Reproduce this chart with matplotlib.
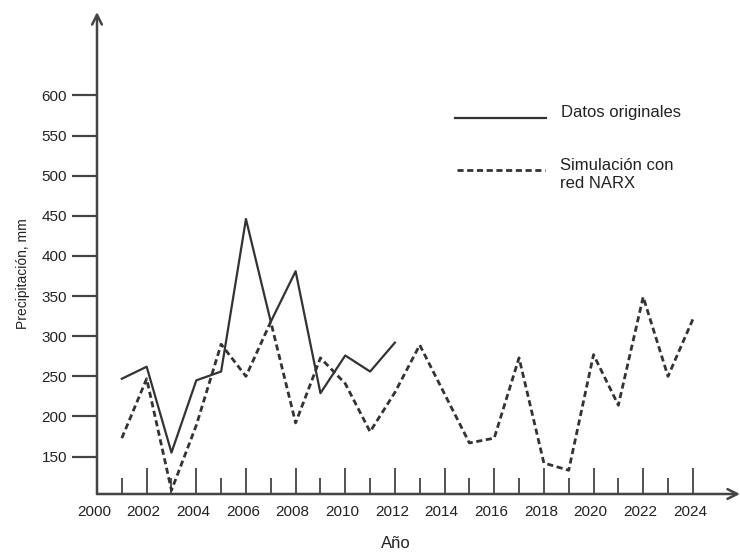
import matplotlib
matplotlib.use("Agg")
import matplotlib.pyplot as plt
from matplotlib.ticker import FixedLocator
from matplotlib.lines import Line2D
from matplotlib.transforms import ScaledTranslation

plt.rcParams['font.family'] = ['Liberation Sans', 'DejaVu Sans']

# ---- data ----
years_orig = [2001, 2002, 2003, 2004, 2005, 2006, 2007, 2008, 2009, 2010, 2011, 2012]
orig = [247, 262, 155, 245, 256, 446, 318, 381, 229, 276, 256, 292]

years_sim = list(range(2001, 2025))
sim = [173, 247, 108, 189, 290, 250, 318, 192, 273, 241, 181, 230,
       289, 228, 167, 173, 273, 142, 133, 277, 214, 349, 250, 321]

y_ticks = [150, 200, 250, 300, 350, 400, 450, 500, 550, 600]
x_major = list(range(2000, 2025, 2))
x_minor = list(range(2001, 2024, 2))
label_orig = "Datos originales"
label_sim = "Simulación con\nred NARX"

W, H = 740, 554
fig = plt.figure(figsize=(W / 100, H / 100), dpi=100)
x0, x1 = 97, 740
y0, y1 = 494, 12
ax = fig.add_axes([x0 / W, (H - y0) / H, (x1 - x0) / W, (y0 - y1) / H])
ax.set_xlim(2000, 2025.9)
ax.set_ylim(103.4, 704)

axis_col = '#444444'
line_col = '#333333'
text_col = '#222222'
for s in ax.spines.values():
    s.set_visible(False)
ax.patch.set_alpha(0)

# axes with arrows
arrow = dict(arrowstyle='->,head_length=0.7,head_width=0.35',
             color=axis_col, lw=1.8, shrinkA=0, shrinkB=0)
ax.annotate('', xy=(2000, 704), xytext=(2000, 103.4), xycoords='data',
            arrowprops=arrow, annotation_clip=False)
ax.annotate('', xy=(2025.9, 103.4), xytext=(2000, 103.4), xycoords='data',
            arrowprops=arrow, annotation_clip=False)

dash_style = (2.2, 1.3)
ax.plot(years_orig, orig, color=line_col, lw=1.6, label=label_orig, clip_on=False)
ax.plot(years_sim, sim, color=line_col, lw=2.0, dashes=dash_style,
        label=label_sim, clip_on=False)

# ticks
ax.yaxis.set_major_locator(FixedLocator(y_ticks))
ax.tick_params(axis='y', direction='out', length=18, width=1.6, color=axis_col,
               pad=3.5, labelsize=11, labelcolor=text_col)
ax.xaxis.set_major_locator(FixedLocator(x_major))
ax.xaxis.set_minor_locator(FixedLocator(x_minor))
ax.tick_params(axis='x', which='major', direction='in', length=18.7, width=1.3,
               color=axis_col, pad=8, labelsize=11, labelcolor=text_col)
ax.tick_params(axis='x', which='minor', direction='in', length=11.5, width=1.3,
               color=axis_col)
shift = ScaledTranslation(-3 / 100, 0, fig.dpi_scale_trans)
for lbl in ax.get_xticklabels():
    lbl.set_transform(lbl.get_transform() + shift)

ax.set_ylabel('Precipitación, mm', fontsize=10, color=text_col)
ax.yaxis.set_label_coords((30 - x0) / (x1 - x0), (y0 - 274) / (y0 - y1))
ax.set_xlabel('Año', fontsize=12, color=text_col)
ax.xaxis.set_label_coords((396 - x0) / (x1 - x0), -(543 - y0) / (y0 - y1))
ax.xaxis.label.set_va('center')

# legend (drawn manually to match reference placement)
def fx(px):
    return px / W

def fy(py):
    return (H - py) / H

fig.add_artist(Line2D([fx(455), fx(546)], [fy(118), fy(118)], color=line_col,
                      lw=1.6, transform=fig.transFigure))
fig.add_artist(Line2D([fx(457), fx(545)], [fy(170), fy(170)], color=line_col,
                      lw=2.0, dashes=dash_style, transform=fig.transFigure))
fig.text(fx(561), fy(112), label_orig, fontsize=12, color=text_col,
         ha='left', va='center')
fig.text(fx(560), fy(174.5), label_sim, fontsize=12, color=text_col,
         ha='left', va='center', linespacing=1.25)

fig.savefig('out.png', dpi=100)
